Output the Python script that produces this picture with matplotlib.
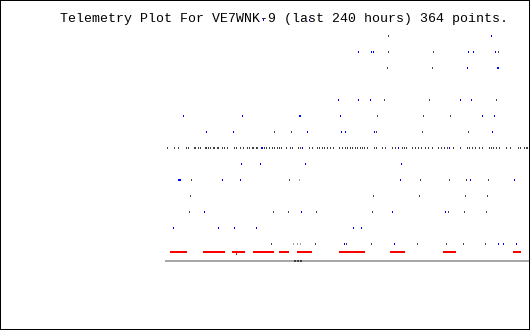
import matplotlib
matplotlib.use('Agg')
import matplotlib.pyplot as plt

title = 'Telemetry Plot For VE7WNK-9 (last 240 hours) 364 points.'
n_points = 364

# sample index of each hit, keyed by telemetry row (0 = bottom row)
dark_hits = {
    13: [223],
    12: [223, 268, 333],
    11: [222, 267],
    9: [219, 264, 331],
    8: [212, 258, 285],
    7: [109, 126, 211, 257, 303],
    6: [2, 9, 13, 21, 23, 29, 30, 33, 35, 40, 41, 43, 45, 48, 49, 52, 53, 57, 59,
        62, 69, 71, 75, 78, 82, 84, 87, 88, 91, 92, 99, 101, 104, 107, 109, 112,
        114, 116, 121, 125, 127, 133, 135, 144, 147, 152, 154, 157, 159, 162, 165,
        168, 174, 177, 180, 182, 185, 187, 190, 192, 195, 197, 199, 202, 209, 211,
        217, 220, 227, 230, 237, 239, 241, 247, 250, 253, 256, 260, 263, 267, 273,
        276, 279, 282, 288, 295, 302, 304, 307, 310, 314, 317, 324, 326, 328, 331,
        334, 341, 345, 353, 355, 359, 361, 362],
    4: [26, 124, 255, 284, 301, 323],
    3: [25, 208, 254, 300, 322],
    2: [24, 108, 123, 151, 207, 283, 299, 321],
    0: [106, 150, 181, 206, 252, 281, 298, 320],
}
blue_hits = {
    14: [98, 144],
    13: [326],
    12: [193, 206, 208, 303, 308, 330],
    11: [302, 332, 333],
    9: [173, 193, 205, 295, 306],
    8: [18, 77, 134, 135, 175, 317, 329],
    7: [41, 68, 142, 176, 180, 209, 327],
    6: [96, 97, 137, 233, 284],
    5: [76, 95, 140, 236],
    4: [13, 14, 15, 57, 75, 235, 305, 349],
    2: [39, 136, 227, 280],
    1: [8, 53, 69, 91, 188, 196],
    0: [179, 229, 333, 338, 351],
}
gray_hits = {4: [134], 0: [128, 132, 135]}

# periods where the status bit was on (first, last sample)
status_on = [(5, 21), (38, 59), (67, 79), (88, 108), (114, 123), (132, 146),
             (174, 199), (225, 231), (232, 239), (278, 286), (287, 290), (348, 355)]
status_blip = [71]
baseline_hits = [129, 132, 135]

ROW_H = 0.125      # mark height in row units
STATUS_Y = -0.5
BASE_Y = -1.0625

fig = plt.figure(figsize=(5.3, 3.3), dpi=100)
ax = fig.add_axes([0, 0, 1, 1])
ax.set_xlim(-165, 365)
ax.set_ylim(-5.375, 15.25)
ax.set_xticks([])
ax.set_yticks([])
for s in ax.spines.values():
    s.set_linewidth(1.44)
    s.set_color('black')


def hits(d, color):
    for row, xs in d.items():
        ax.bar(xs, ROW_H, bottom=row - ROW_H / 2, width=1, align='edge',
               color=color, linewidth=0, antialiased=False)


hits(dark_hits, '#404040')
hits(blue_hits, '#0000ff')
hits(gray_hits, '#a0a0a0')

# status bit spans
for a, b in status_on:
    ax.bar(a, ROW_H, bottom=STATUS_Y - ROW_H / 2, width=b - a + 1, align='edge',
           color='#ff0000', linewidth=0, antialiased=False)
ax.bar(status_blip, ROW_H, bottom=STATUS_Y - 1.5 * ROW_H, width=1, align='edge',
       color='#ff0000', linewidth=0, antialiased=False)

# time baseline
ax.bar(0, ROW_H, bottom=BASE_Y - ROW_H / 2, width=n_points + 1, align='edge',
       color='#a8a8a8', linewidth=0, antialiased=False)
ax.bar(baseline_hits, ROW_H, bottom=BASE_Y - ROW_H / 2, width=2, align='edge',
       color='#404040', linewidth=0, antialiased=False)

fig.text(60 / 530, 1 - 22 / 330, title, family='Liberation Mono',
         fontsize=9.5, va='baseline', ha='left', color='black')

fig.savefig('out.png', dpi=100)
